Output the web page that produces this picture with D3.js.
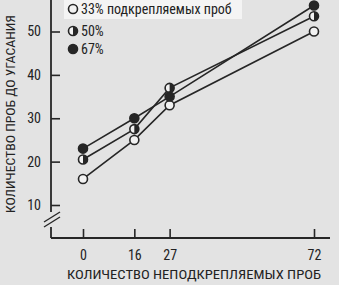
<!DOCTYPE html>
<html>
<head>
<meta charset="utf-8">
<script src="https://cdn.jsdelivr.net/npm/d3@7"></script>
<style>
  body { margin: 0; background: #e3e3e3; }
  svg { display: block; }
  text { font-family: "Liberation Sans Narrow", "Arial Narrow", "Roboto Condensed", sans-serif; fill: #222; }
</style>
</head>
<body>
<svg id="chart"></svg>
<script>
// unreinforced trials (x) and trials to extinction for each reinforcement level
const trials = [0, 16, 27, 72];
const seriesNames = ["33% подкрепляемых проб", "50%", "67%"];
const values33 = [16, 25, 33, 50];
const values50 = [20.5, 27.5, 37, 53.5];
const values67 = [23, 30, 35, 56];
const yTicks = [10, 20, 30, 40, 50];

const width = 339, height = 285;
const ink = "#262626";
const bg = "#e3e3e3";

const svg = d3.select("#chart")
  .attr("width", width)
  .attr("height", height);

const x = d3.scaleLinear().domain([0, 72]).range([83, 314]);
const y = d3.scaleLinear().domain([10, 50]).range([205, 31.5]);

const axisX = 51, axisY = 238;

// Y axis ticks and labels
svg.append("g")
  .attr("transform", `translate(${axisX},0)`)
  .call(d3.axisLeft(y).tickValues(yTicks).tickSizeInner(-9).tickSizeOuter(0).tickPadding(10))
  .call(g => g.select(".domain").remove())
  .call(g => g.selectAll("line").attr("stroke", ink).attr("stroke-width", 1.6))
  .call(g => g.selectAll("text").attr("font-size", 14).attr("font-family", null));

// X axis ticks and labels
svg.append("g")
  .attr("transform", `translate(0,${axisY})`)
  .call(d3.axisBottom(x).tickValues(trials).tickSizeInner(-9).tickSizeOuter(0).tickPadding(12))
  .call(g => g.select(".domain").remove())
  .call(g => g.selectAll("line").attr("stroke", ink).attr("stroke-width", 1.6))
  .call(g => g.selectAll("text").attr("font-size", 14).attr("font-family", null));

// axis lines with break
const axes = svg.append("g").attr("stroke", ink).attr("stroke-width", 1.8).attr("fill", "none");
axes.append("line").attr("x1", axisX).attr("x2", axisX).attr("y1", 0).attr("y2", 212);
axes.append("line").attr("x1", axisX).attr("x2", axisX).attr("y1", 227).attr("y2", axisY);
axes.append("line").attr("x1", axisX).attr("x2", 330).attr("y1", axisY).attr("y2", axisY);
axes.append("line").attr("x1", 44).attr("x2", 60).attr("y1", 222).attr("y2", 212).attr("stroke-width", 1.4);
axes.append("line").attr("x1", 44).attr("x2", 60).attr("y1", 227).attr("y2", 217).attr("stroke-width", 1.4);

// lines
const allSeries = [values33, values50, values67];
const line = d3.line().x((d, i) => x(trials[i])).y(d => y(d));
svg.append("g").selectAll("path")
  .data(allSeries)
  .join("path")
  .attr("d", d => line(d))
  .attr("fill", "none")
  .attr("stroke", ink)
  .attr("stroke-width", 1.6);

// markers
function drawMarker(g, cx, cy, kind) {
  const r = 4.5;
  g.append("circle").attr("cx", cx).attr("cy", cy).attr("r", r)
    .attr("fill", kind === 2 ? ink : "#f2f2f2")
    .attr("stroke", ink).attr("stroke-width", 1.6);
  if (kind === 1) {
    g.append("path")
      .attr("d", `M${cx},${cy - r} A${r},${r} 0 0,1 ${cx},${cy + r} Z`)
      .attr("fill", ink);
  }
}

const marks = svg.append("g");
allSeries.forEach((vals, k) => {
  vals.forEach((v, i) => drawMarker(marks, x(trials[i]), y(v), k));
});

// legend
svg.append("rect").attr("x", 64).attr("y", 0).attr("width", 178).attr("height", 19).attr("fill", "#f4f4f4");
const legendY = [9, 31, 49];
seriesNames.forEach((name, k) => {
  drawMarker(svg, 73, legendY[k], k);
  svg.append("text")
    .attr("x", 81)
    .attr("y", legendY[k] + 5)
    .attr("font-size", 14)
    .text(name);
});

// axis titles
svg.append("text")
  .attr("x", 194)
  .attr("y", 279)
  .attr("text-anchor", "middle")
  .attr("font-size", 13)
  .attr("textLength", 254)
  .attr("lengthAdjust", "spacingAndGlyphs")
  .text("КОЛИЧЕСТВО НЕПОДКРЕПЛЯЕМЫХ ПРОБ");

svg.append("text")
  .attr("transform", "translate(15,114) rotate(-90)")
  .attr("text-anchor", "middle")
  .attr("font-size", 12)
  .attr("textLength", 198)
  .attr("lengthAdjust", "spacingAndGlyphs")
  .text("КОЛИЧЕСТВО ПРОБ ДО УГАСАНИЯ");
</script>
</body>
</html>
